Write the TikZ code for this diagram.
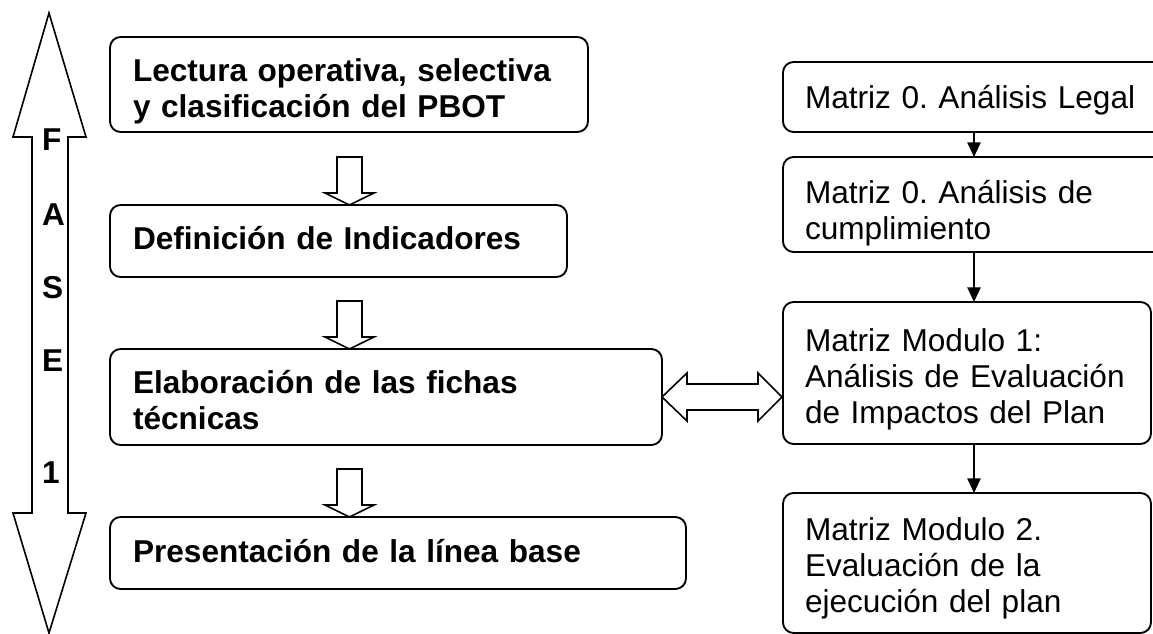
\documentclass[tikz,border=0pt]{standalone}
\usepackage{fontspec}
\setmainfont{Liberation Sans}
\usetikzlibrary{arrows.meta}
\usetikzlibrary{positioning}
\usetikzlibrary{calc}
\frenchspacing

\begin{document}
\begin{tikzpicture}[x=0.75pt,y=-0.75pt,line width=1.4pt,
  every node/.style={inner sep=0pt,outer sep=0pt}]

  \tikzstyle{stagebox}=[rectangle,draw,rounded corners=8pt,anchor=north west];
  \tikzstyle{stagetext}=[anchor=base west,text width=350pt,align=left,
    font=\fontsize{23.7}{27}\selectfont\bfseries];
  \tikzstyle{matrixtext}=[anchor=base west,text width=270pt,align=left,
    font=\fontsize{23.7}{27}\selectfont];
  \tikzstyle{letter}=[anchor=west,font=\fontsize{23.7}{27}\selectfont\bfseries];
  \tikzstyle{hollow}=[draw,line width=1.2pt,fill=white,line join=miter];
  \tikzstyle{flow}=[draw,line width=1.1pt,-{Triangle[length=11pt,width=10pt]}];
  \tikzset{hollowdown/.pic={
    \path[hollow] (0,0) -- ++(24.5,-12) -- ++(-12,0) -- ++(0,-36)
      -- ++(-25,0) -- ++(0,36) -- ++(-12,0) -- cycle;}}

  \useasboundingbox (0,0) rectangle (1153,634);
  \clip (0,0) rectangle (1153,634);

  % phase arrow
  \path[hollow] (49,13) -- (86,137) -- (68,137) -- (68,513) -- (86,513)
    -- (49,633) -- (13,513) -- (32,513) -- (32,137) -- (13,137) -- cycle;
  \node[letter] (letF) at (42,140) {F};
  \node[letter] (letA) at (42,215) {A};
  \node[letter] (letS) at (42,288) {S};
  \node[letter] (letE) at (42,361) {E};
  \node[letter] (let1) at (42,473) {1};

  % left column
  \node[stagebox,minimum width=358.5pt,minimum height=71.25pt] (lectura) at (110,37) {};
  \node[stagebox,minimum width=342.75pt,minimum height=54pt] (indicadores) at (110,205) {};
  \node[stagebox,minimum width=414pt,minimum height=72pt] (fichas) at (110,349) {};
  \node[stagebox,minimum width=432pt,minimum height=54pt] (lineabase) at (110,517) {};

  \node[stagetext] (lecturatxt) at ($(lectura.north west)+(23,45)$)
    {Lectura operativa, selectiva\\y clasificación del PBOT};
  \node[stagetext] (indicadorestxt) at ($(indicadores.north west)+(23,45)$)
    {Definición de Indicadores};
  \node[stagetext] (fichastxt) at ($(fichas.north west)+(23,45)$)
    {Elaboración de las fichas\\técnicas};
  \node[stagetext] (lineabasetxt) at ($(lineabase.north west)+(23,45)$)
    {Presentación de la línea base};

  \pic at ($(indicadores.north west)+(239.5,0)$) {hollowdown};
  \pic at ($(fichas.north west)+(239.5,0)$) {hollowdown};
  \pic at ($(lineabase.north west)+(239.5,0)$) {hollowdown};

  % right column
  \node[stagebox,minimum width=286.5pt,minimum height=52.5pt] (legal) at (783,62) {};
  \node[stagebox,minimum width=286.5pt,minimum height=71.25pt] (cumplimiento) at (783,157) {};
  \node[stagebox,minimum width=276pt,minimum height=106.5pt] (modulo1) at (783,302) {};
  \node[stagebox,minimum width=276pt,minimum height=105pt] (modulo2) at (783,493) {};

  \node[matrixtext] (legaltxt) at ($(legal.north west)+(22,47)$)
    {Matriz 0. Análisis Legal};
  \node[matrixtext] (cumplimientotxt) at ($(cumplimiento.north west)+(22,47)$)
    {Matriz 0. Análisis de\\cumplimiento};
  \node[matrixtext] (modulo1txt) at ($(modulo1.north west)+(22,50)$)
    {Matriz Modulo 1:\\Análisis de Evaluación\\de Impactos del Plan};
  \node[matrixtext] (modulo2txt) at ($(modulo2.north west)+(22,47)$)
    {Matriz Modulo 2.\\Evaluación de la\\ejecución del plan};

  \path[flow] (legal) -- (cumplimiento);
  \path[flow] (cumplimiento) -- (cumplimiento |- modulo1.north);
  \path[flow] (cumplimiento |- modulo1.south) -- (cumplimiento |- modulo2.north);

  % link between columns
  \path[hollow] (fichas.east) -- ++(25,-24) -- ++(0,11) -- ++(71,0) -- ++(0,-11)
    -- ++(24,24) -- ++(-24,24) -- ++(0,-11) -- ++(-71,0) -- ++(0,11) -- cycle;

\end{tikzpicture}
\end{document}
